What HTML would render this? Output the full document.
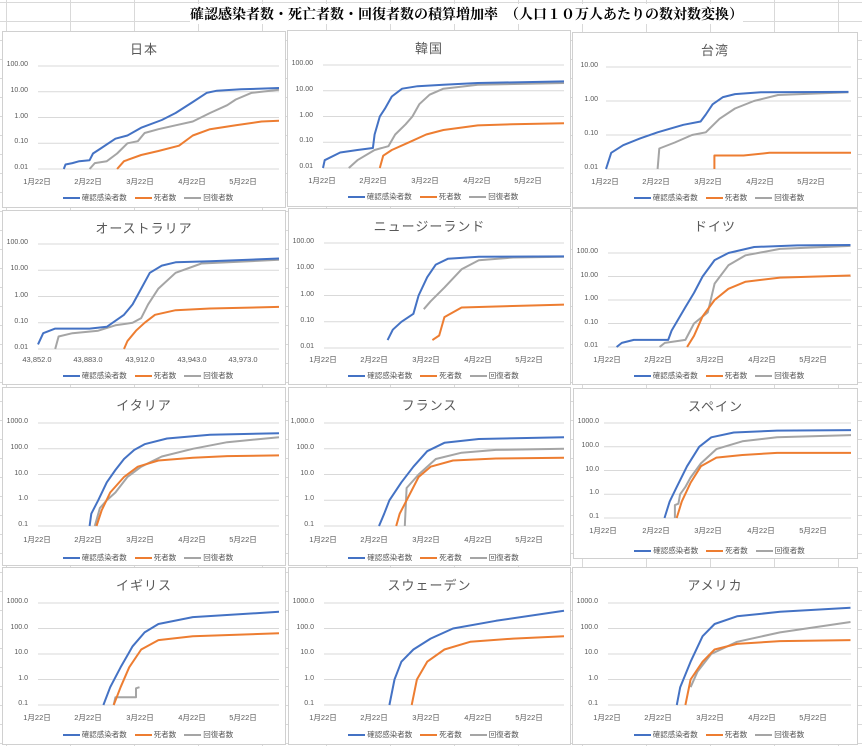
<!DOCTYPE html>
<html><head><meta charset="utf-8"><style>
body{margin:0;width:862px;height:745px;overflow:hidden;position:relative;font-family:"Liberation Sans","Noto Sans CJK JP",sans-serif;
background-color:#fff;background-image:linear-gradient(to right,#d9d9d9 1px,transparent 1px),linear-gradient(to bottom,#d9d9d9 1px,transparent 1px);background-size:64px 19px;background-position:6px 2px}
.h{position:absolute;left:190px;top:4px;font:bold 14px "Liberation Serif","Noto Serif CJK SC",serif;letter-spacing:0;color:#000;background:#fff;white-space:nowrap}
.p{position:absolute;background:#fff;border:1px solid #d0d0d0;box-sizing:border-box}
.t{position:absolute;left:0;right:0;top:7px;text-align:center;font-size:13px;color:#595959;letter-spacing:1px}
.yl{position:absolute;left:0;width:26px;display:flex;flex-direction:column;justify-content:space-between;font-size:7px;color:#595959;text-align:right}
.yl span{height:10px;line-height:10px;display:block}
.xl span{position:absolute;width:50px;text-align:center;font-size:7.5px;color:#595959}
.lg{position:absolute;left:0;right:0;text-align:center;font-size:7.5px;color:#595959;white-space:nowrap}
.lg i{display:inline-block;width:17px;height:2px;vertical-align:middle;margin:0 2px 0 8px}
svg{position:absolute;left:0;top:0}
</style></head><body>
<div class="h">確認感染者数・死亡者数・回復者数の積算増加率　（人口１０万人あたりの数対数変換）</div>

<div class="p" style="left:2px;top:31px;width:284px;height:177px" data-c="jp" data-top="34" data-bot="137" data-dec="4" data-x0="35" data-k="1.72"><div class="t">日本</div></div>
<div class="p" style="left:287px;top:30px;width:284px;height:177px" data-c="kr" data-top="34" data-bot="137" data-dec="4" data-x0="35" data-k="1.72"><div class="t">韓国</div></div>
<div class="p" style="left:572px;top:32px;width:286px;height:176px" data-c="tw" data-top="34" data-bot="136" data-dec="3" data-x0="33" data-k="1.72"><div class="t">台湾</div></div>

<div class="p" style="left:2px;top:210px;width:284px;height:175px" data-c="au" data-top="33" data-bot="138" data-dec="4" data-x0="35" data-k="1.72"><div class="t">オーストラリア</div></div>
<div class="p" style="left:288px;top:208px;width:283px;height:177px" data-c="nz" data-top="34" data-bot="139" data-dec="4" data-x0="35" data-k="1.72"><div class="t">ニュージーランド</div></div>
<div class="p" style="left:572px;top:208px;width:286px;height:177px" data-c="de" data-top="44" data-bot="138" data-dec="4" data-x0="35" data-k="1.72"><div class="t">ドイツ</div></div>

<div class="p" style="left:2px;top:387px;width:284px;height:179px" data-c="it" data-top="35" data-bot="138" data-dec="4" data-x0="35" data-k="1.72"><div class="t">イタリア</div></div>
<div class="p" style="left:288px;top:387px;width:283px;height:179px" data-c="fr" data-top="35" data-bot="138" data-dec="4" data-x0="35" data-k="1.72"><div class="t">フランス</div></div>
<div class="p" style="left:573px;top:388px;width:285px;height:171px" data-c="es" data-top="34" data-bot="129" data-dec="4" data-x0="30" data-k="1.73"><div class="t">スペイン</div></div>

<div class="p" style="left:2px;top:567px;width:284px;height:178px" data-c="uk" data-top="35" data-bot="137" data-dec="4" data-x0="35" data-k="1.72"><div class="t">イギリス</div></div>
<div class="p" style="left:288px;top:567px;width:283px;height:178px" data-c="se" data-top="35" data-bot="137" data-dec="4" data-x0="35" data-k="1.72"><div class="t">スウェーデン</div></div>
<div class="p" style="left:572px;top:567px;width:286px;height:178px" data-c="us" data-top="35" data-bot="137" data-dec="4" data-x0="35" data-k="1.72"><div class="t">アメリカ</div></div>

<div style="position:absolute;left:2px;top:31px;width:284px;height:177px">
<div class="yl" style="top:29px;height:113px"><span>100.00</span><span>10.00</span><span>1.00</span><span>0.10</span><span>0.01</span></div>
<div class="xl" style="position:absolute;top:145px;left:0"><span style="left:10px">1月22日</span><span style="left:61px">2月22日</span><span style="left:113px">3月22日</span><span style="left:165px">4月22日</span><span style="left:216px">5月22日</span></div>
<div class="lg" style="top:161px"><i style="background:#4472c4"></i>確認感染者数<i style="background:#ed7d31"></i>死者数<i style="background:#a5a5a5"></i>回復者数</div></div>

<div style="position:absolute;left:287px;top:30px;width:284px;height:177px">
<div class="yl" style="top:29px;height:113px"><span>100.00</span><span>10.00</span><span>1.00</span><span>0.10</span><span>0.01</span></div>
<div class="xl" style="position:absolute;top:145px;left:0"><span style="left:10px">1月22日</span><span style="left:61px">2月22日</span><span style="left:113px">3月22日</span><span style="left:165px">4月22日</span><span style="left:216px">5月22日</span></div>
<div class="lg" style="top:161px"><i style="background:#4472c4"></i>確認感染者数<i style="background:#ed7d31"></i>死者数<i style="background:#a5a5a5"></i>回復者数</div></div>

<div style="position:absolute;left:572px;top:32px;width:286px;height:176px">
<div class="yl" style="top:29px;height:112px"><span>10.00</span><span>1.00</span><span>0.10</span><span>0.01</span></div>
<div class="xl" style="position:absolute;top:144px;left:0"><span style="left:8px">1月22日</span><span style="left:59px">2月22日</span><span style="left:111px">3月22日</span><span style="left:163px">4月22日</span><span style="left:214px">5月22日</span></div>
<div class="lg" style="top:160px"><i style="background:#4472c4"></i>確認感染者数<i style="background:#ed7d31"></i>死者数<i style="background:#a5a5a5"></i>回復者数</div></div>

<div style="position:absolute;left:2px;top:210px;width:284px;height:175px">
<div class="yl" style="top:28px;height:115px"><span>100.00</span><span>10.00</span><span>1.00</span><span>0.10</span><span>0.01</span></div>
<div class="xl" style="position:absolute;top:145px;left:0"><span style="left:10px">43,852.0</span><span style="left:61px">43,883.0</span><span style="left:113px">43,912.0</span><span style="left:165px">43,943.0</span><span style="left:216px">43,973.0</span></div>
<div class="lg" style="top:160px"><i style="background:#4472c4"></i>確認感染者数<i style="background:#ed7d31"></i>死者数<i style="background:#a5a5a5"></i>回復者数</div></div>

<div style="position:absolute;left:288px;top:208px;width:283px;height:177px">
<div class="yl" style="top:29px;height:115px"><span>100.00</span><span>10.00</span><span>1.00</span><span>0.10</span><span>0.01</span></div>
<div class="xl" style="position:absolute;top:146px;left:0"><span style="left:10px">1月22日</span><span style="left:61px">2月22日</span><span style="left:113px">3月22日</span><span style="left:165px">4月22日</span><span style="left:216px">5月22日</span></div>
<div class="lg" style="top:162px"><i style="background:#4472c4"></i>確認感染者数<i style="background:#ed7d31"></i>死者数<i style="background:#a5a5a5"></i>回復者数</div></div>

<div style="position:absolute;left:572px;top:208px;width:286px;height:177px">
<div class="yl" style="top:39px;height:104px"><span>100.00</span><span>10.00</span><span>1.00</span><span>0.10</span><span>0.01</span></div>
<div class="xl" style="position:absolute;top:146px;left:0"><span style="left:10px">1月22日</span><span style="left:61px">2月22日</span><span style="left:113px">3月22日</span><span style="left:165px">4月22日</span><span style="left:216px">5月22日</span></div>
<div class="lg" style="top:162px"><i style="background:#4472c4"></i>確認感染者数<i style="background:#ed7d31"></i>死者数<i style="background:#a5a5a5"></i>回復者数</div></div>

<div style="position:absolute;left:2px;top:387px;width:284px;height:179px">
<div class="yl" style="top:30px;height:113px"><span>1000.0</span><span>100.0</span><span>10.0</span><span>1.0</span><span>0.1</span></div>
<div class="xl" style="position:absolute;top:147px;left:0"><span style="left:10px">1月22日</span><span style="left:61px">2月22日</span><span style="left:113px">3月22日</span><span style="left:165px">4月22日</span><span style="left:216px">5月22日</span></div>
<div class="lg" style="top:165px"><i style="background:#4472c4"></i>確認感染者数<i style="background:#ed7d31"></i>死者数<i style="background:#a5a5a5"></i>回復者数</div></div>

<div style="position:absolute;left:288px;top:387px;width:283px;height:179px">
<div class="yl" style="top:30px;height:113px"><span>1,000.0</span><span>100.0</span><span>10.0</span><span>1.0</span><span>0.1</span></div>
<div class="xl" style="position:absolute;top:147px;left:0"><span style="left:10px">1月22日</span><span style="left:61px">2月22日</span><span style="left:113px">3月22日</span><span style="left:165px">4月22日</span><span style="left:216px">5月22日</span></div>
<div class="lg" style="top:165px"><i style="background:#4472c4"></i>確認感染者数<i style="background:#ed7d31"></i>死者数<i style="background:#a5a5a5"></i>回復者数</div></div>

<div style="position:absolute;left:573px;top:388px;width:285px;height:171px">
<div class="yl" style="top:29px;height:105px"><span>1000.0</span><span>100.0</span><span>10.0</span><span>1.0</span><span>0.1</span></div>
<div class="xl" style="position:absolute;top:137px;left:0"><span style="left:5px">1月22日</span><span style="left:58px">2月22日</span><span style="left:110px">3月22日</span><span style="left:163px">4月22日</span><span style="left:215px">5月22日</span></div>
<div class="lg" style="top:157px"><i style="background:#4472c4"></i>確認感染者数<i style="background:#ed7d31"></i>死者数<i style="background:#a5a5a5"></i>回復者数</div></div>

<div style="position:absolute;left:2px;top:567px;width:284px;height:178px">
<div class="yl" style="top:30px;height:112px"><span>1000.0</span><span>100.0</span><span>10.0</span><span>1.0</span><span>0.1</span></div>
<div class="xl" style="position:absolute;top:145px;left:0"><span style="left:10px">1月22日</span><span style="left:61px">2月22日</span><span style="left:113px">3月22日</span><span style="left:165px">4月22日</span><span style="left:216px">5月22日</span></div>
<div class="lg" style="top:162px"><i style="background:#4472c4"></i>確認感染者数<i style="background:#ed7d31"></i>死者数<i style="background:#a5a5a5"></i>回復者数</div></div>

<div style="position:absolute;left:288px;top:567px;width:283px;height:178px">
<div class="yl" style="top:30px;height:112px"><span>1000.0</span><span>100.0</span><span>10.0</span><span>1.0</span><span>0.1</span></div>
<div class="xl" style="position:absolute;top:145px;left:0"><span style="left:10px">1月22日</span><span style="left:61px">2月22日</span><span style="left:113px">3月22日</span><span style="left:165px">4月22日</span><span style="left:216px">5月22日</span></div>
<div class="lg" style="top:162px"><i style="background:#4472c4"></i>確認感染者数<i style="background:#ed7d31"></i>死者数<i style="background:#a5a5a5"></i>回復者数</div></div>

<div style="position:absolute;left:572px;top:567px;width:286px;height:178px">
<div class="yl" style="top:30px;height:112px"><span>1000.0</span><span>100.0</span><span>10.0</span><span>1.0</span><span>0.1</span></div>
<div class="xl" style="position:absolute;top:145px;left:0"><span style="left:10px">1月22日</span><span style="left:61px">2月22日</span><span style="left:113px">3月22日</span><span style="left:165px">4月22日</span><span style="left:216px">5月22日</span></div>
<div class="lg" style="top:162px"><i style="background:#4472c4"></i>確認感染者数<i style="background:#ed7d31"></i>死者数<i style="background:#a5a5a5"></i>回復者数</div></div>

<script>
var D={
jp:{min:-2,b:[[15,.01],[16,.015],[20,.017],[24,.02],[30,.022],[32,.04],[36,.06],[45,.15],[52,.2],[60,.4],[72,.8],[80,1.5],[90,4],[98,9],[104,11],[118,12.5],[141,14]],
o:[[46,.01],[50,.02],[60,.035],[70,.05],[82,.08],[90,.2],[100,.35],[115,.5],[130,.7],[141,.75]],
g:[[30,.01],[33,.017],[40,.02],[46,.04],[52,.1],[58,.12],[62,.25],[70,.35],[80,.5],[90,.7],[100,1.5],[110,3],[115,5],[124,9],[141,12]]},
kr:{min:-2,b:[[0,.01],[1,.02],[10,.04],[20,.05],[29,.06],[30,.2],[33,1],[36,2],[40,6],[46,12],[55,15],[70,17],[90,20],[141,23]],
o:[[33,.01],[35,.03],[40,.05],[50,.1],[60,.2],[70,.3],[90,.45],[110,.5],[141,.55]],
g:[[15,.01],[20,.02],[30,.05],[38,.07],[42,.2],[48,.5],[52,1],[56,3],[62,7],[70,12],[90,17],[141,20]]},
tw:{min:-2,b:[[0,.01],[3,.03],[10,.05],[20,.08],[30,.12],[45,.2],[55,.25],[58,.4],[62,.8],[68,1.3],[75,1.6],[90,1.8],[141,1.85]],
o:[[63,.01],[63,.025],[80,.025],[95,.03],[145,.03]],
g:[[30,.01],[31,.04],[40,.06],[50,.1],[58,.12],[66,.3],[75,.6],[86,1],[100,1.5],[141,1.8]]},
au:{min:-2,b:[[0,.015],[3,.04],[10,.06],[30,.06],[40,.07],[50,.2],[55,.5],[60,2],[65,8],[72,15],[80,20],[100,22],[141,28]],
o:[[50,.01],[52,.02],[57,.05],[62,.1],[68,.2],[80,.3],[100,.35],[141,.4]],
g:[[10,.01],[12,.03],[20,.04],[35,.05],[45,.08],[55,.1],[60,.15],[64,.5],[70,2],[80,8],[95,18],[141,25]]},
nz:{min:-2,b:[[37,.02],[40,.05],[45,.1],[52,.2],[55,1],[60,5],[65,15],[72,25],[90,30],[141,31]],
o:[[63,.02],[67,.03],[70,.15],[80,.35],[141,.45]],
g:[[58,.3],[62,.6],[70,2],[80,10],[90,22],[110,28],[141,30]]},
de:{min:-2,b:[[5,.01],[8,.015],[15,.02],[35,.02],[37,.05],[45,.5],[50,2],[55,10],[62,50],[70,100],[85,180],[110,210],[141,220]],
o:[[46,.01],[50,.03],[55,.2],[62,1],[70,3],[80,6],[100,9],[141,11]],
g:[[30,.01],[33,.015],[45,.02],[50,.1],[58,.3],[62,5],[70,30],[80,80],[100,150],[141,200]]},
it:{min:-1,b:[[30,.1],[31,.3],[35,1],[40,5],[45,15],[50,40],[56,90],[62,150],[75,250],[100,350],[141,400]],
o:[[34,.1],[37,.4],[42,2],[50,8],[58,20],[70,35],[90,45],[110,52],[141,55]],
g:[[33,.1],[36,.5],[40,1],[45,2],[52,8],[60,20],[72,50],[90,100],[110,180],[141,280]]},
fr:{min:-1,b:[[32,.1],[35,.3],[38,1],[45,5],[52,20],[60,80],[70,170],[90,240],[141,280]],
o:[[42,.1],[44,.3],[48,1],[55,8],[62,20],[75,35],[100,42],[141,45]],
g:[[47,.1],[48,3],[55,10],[65,40],[80,70],[100,90],[141,100]]},
es:{min:-1,b:[[35,.1],[38,.5],[42,2],[48,15],[55,100],[62,250],[75,400],[100,480],[146,500]],
o:[[42,.1],[45,.5],[50,3],[56,15],[65,35],[80,45],[100,55],[146,55]],
g:[[41,.1],[41,.35],[43,.4],[44,1],[47,2],[50,5],[56,20],[65,80],[80,170],[100,250],[146,310]]},
uk:{min:-1,b:[[38,.1],[42,.5],[48,3],[55,20],[62,70],[70,150],[90,280],[141,450]],
o:[[44,.1],[48,.5],[53,3],[60,15],[70,35],[90,50],[141,65]],
g:[[44,.1],[45,.2],[57,.2],[57,.45],[59,.5]]},
se:{min:-1,b:[[38,.1],[41,1],[45,5],[52,15],[62,40],[75,100],[100,200],[141,500]],
o:[[51,.1],[54,1],[60,5],[70,15],[85,30],[110,40],[141,50]],g:[]},
us:{min:-1,b:[[40,.1],[42,.5],[48,5],[55,50],[62,150],[75,300],[100,450],[141,650]],
o:[[45,.1],[48,1],[55,5],[62,15],[75,25],[100,32],[141,35]],
g:[[48,.5],[52,2],[60,10],[75,30],[100,70],[141,180]]}};
document.querySelectorAll('.p[data-c]').forEach(function(p){
 var c=D[p.dataset.c],t=+p.dataset.top,b=+p.dataset.bot,n=+p.dataset.dec,x0=+p.dataset.x0,k=+p.dataset.k;
 var w=p.offsetWidth,h=p.offsetHeight,sp=(b-t)/n,s='';
 for(var i=0;i<=n;i++){var y=t+i*sp;s+='<line x1="'+x0+'" x2="'+(w-8)+'" y1="'+y+'" y2="'+y+'" stroke="#d9d9d9" stroke-width="1"/>';}
 function pl(a,col){if(!a.length)return'';var pts=a.map(function(q){var x=x0+q[0]*k;if(x>w-8)x=w-8;return x.toFixed(1)+','+(b-(Math.log10(q[1])-c.min)*sp).toFixed(1)}).join(' ');
  return '<polyline points="'+pts+'" fill="none" stroke="'+col+'" stroke-width="2" stroke-linejoin="round"/>';}
 s+=pl(c.g,'#a5a5a5')+pl(c.o,'#ed7d31')+pl(c.b,'#4472c4');
 var sv=document.createElementNS('http://www.w3.org/2000/svg','svg');sv.setAttribute('width',w);sv.setAttribute('height',h);sv.innerHTML=s;p.appendChild(sv);
});
</script>
</body></html>
